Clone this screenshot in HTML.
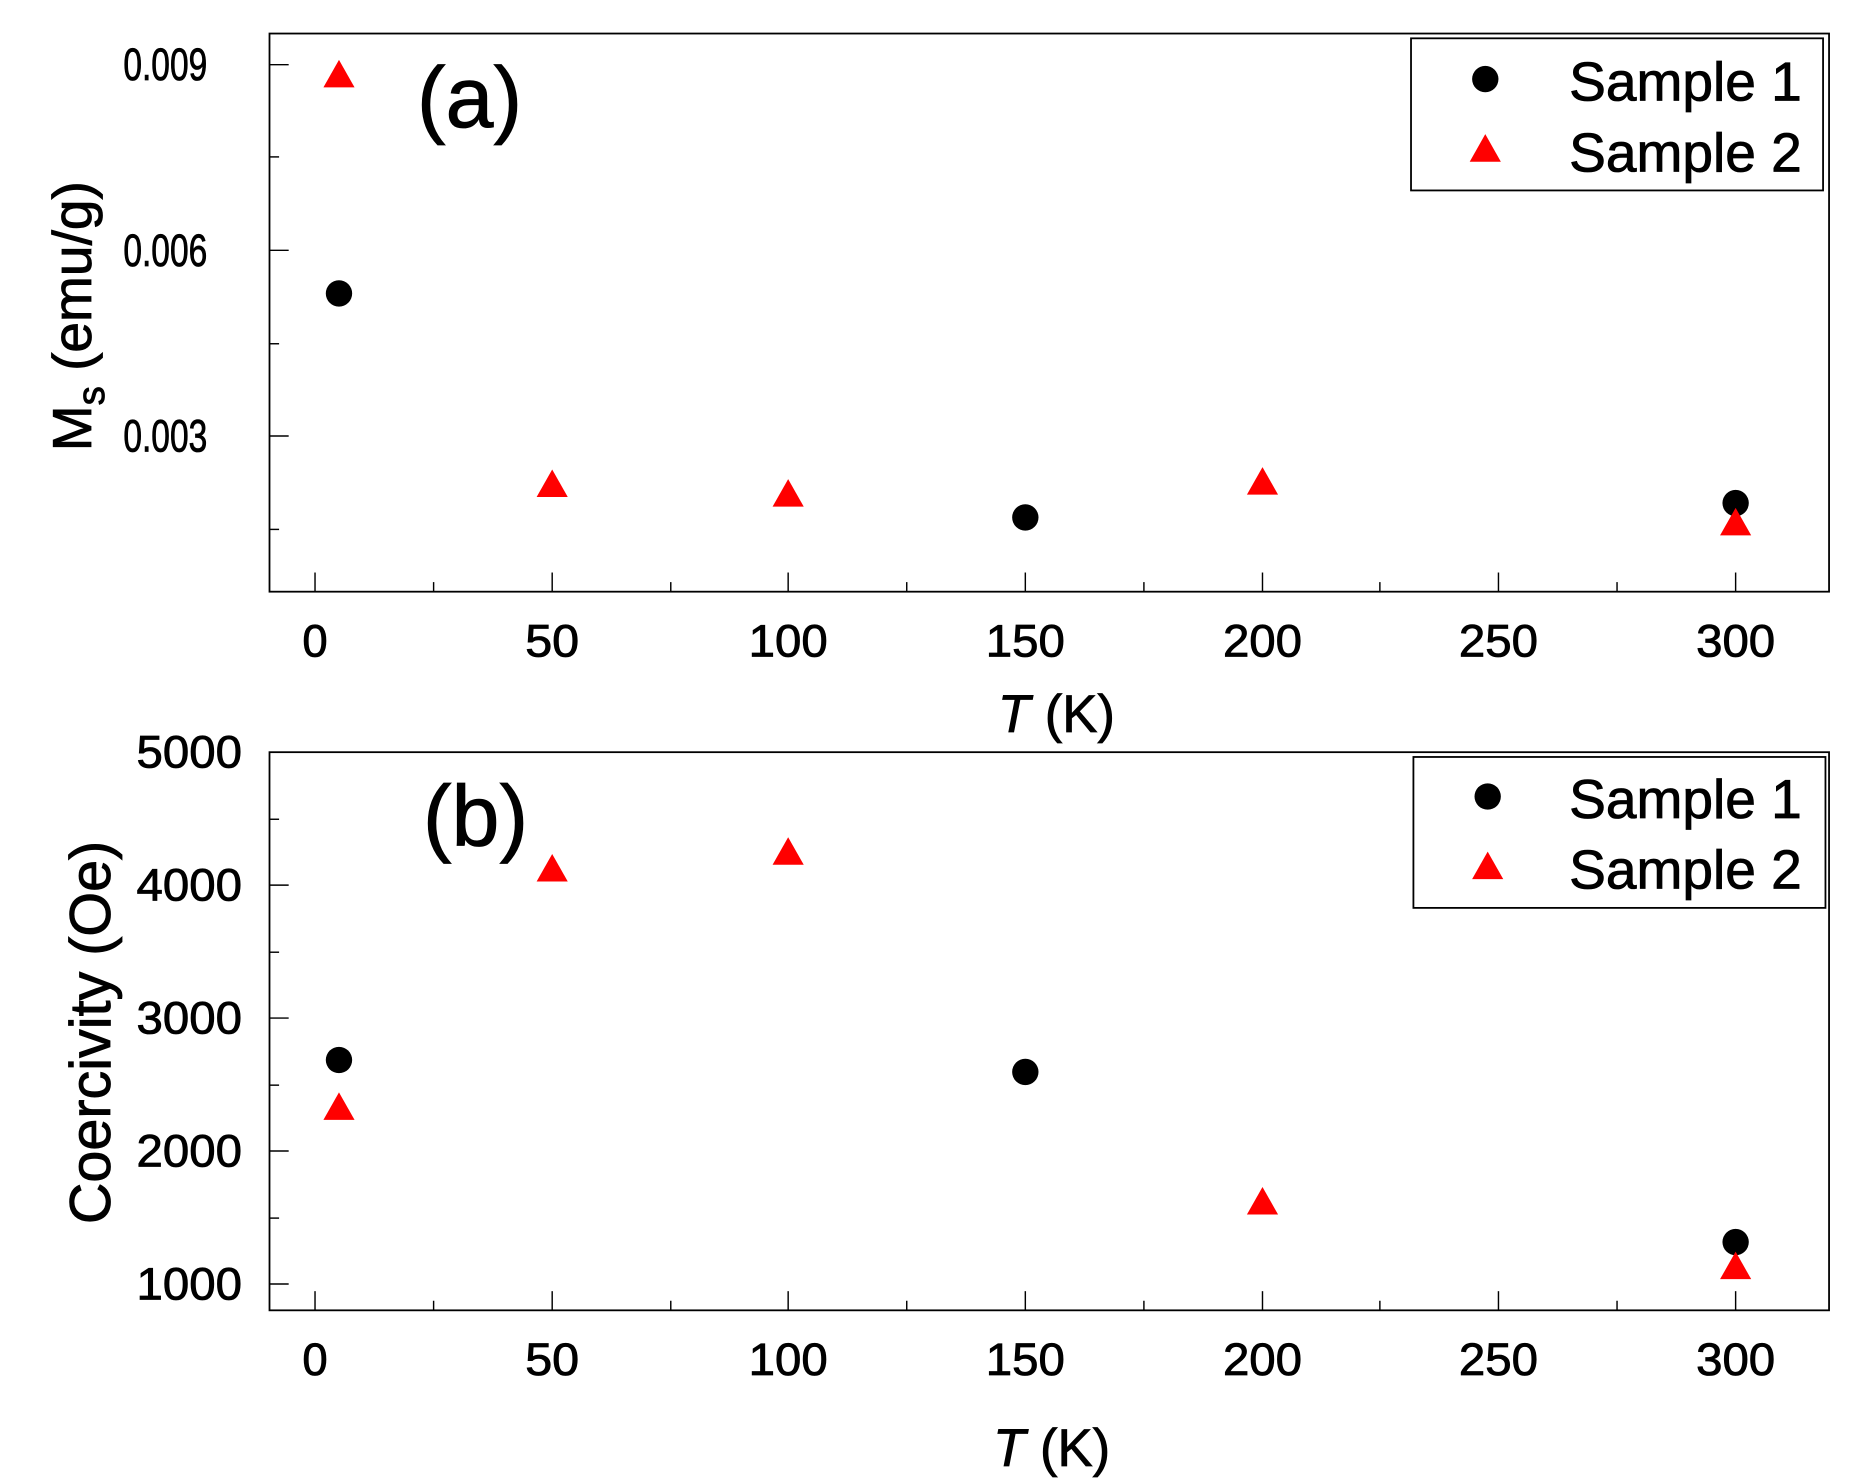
<!DOCTYPE html>
<html><head><style>html,body{margin:0;padding:0;background:#fff}svg{display:block}</style></head><body>
<svg width="1859" height="1484" viewBox="0 0 1552 1239" preserveAspectRatio="none" xmlns="http://www.w3.org/2000/svg" font-family="Liberation Sans, Arial, sans-serif">
<defs>
<g id="c"><circle r="11" fill="#000"/></g>
<g id="t"><polygon points="0,-13 13,10 -13,10" fill="#f00"/></g>
</defs>
<g stroke="#000" stroke-width="0.7">
<!-- Panel a -->
<g font-size="38" text-anchor="end" lengthAdjust="spacingAndGlyphs"><text x="173" y="67" textLength="70" lengthAdjust="spacingAndGlyphs">0.009</text><text x="173" y="222" textLength="70" lengthAdjust="spacingAndGlyphs">0.006</text><text x="173" y="377" textLength="70" lengthAdjust="spacingAndGlyphs">0.003</text></g>
<g font-size="38" text-anchor="middle"><text x="263" y="548">0</text><text x="461" y="548" textLength="45" lengthAdjust="spacingAndGlyphs">50</text><text x="658" y="548" textLength="66" lengthAdjust="spacingAndGlyphs">100</text><text x="856" y="548" textLength="66" lengthAdjust="spacingAndGlyphs">150</text><text x="1054" y="548" textLength="66" lengthAdjust="spacingAndGlyphs">200</text><text x="1251" y="548" textLength="66" lengthAdjust="spacingAndGlyphs">250</text><text x="1449" y="548" textLength="66" lengthAdjust="spacingAndGlyphs">300</text></g>
<text x="882" y="611" font-size="44" text-anchor="middle"><tspan font-style="italic">T</tspan> (K)</text>
<text transform="translate(76,264) rotate(-90)" font-size="46" text-anchor="middle">M<tspan font-size="32" dy="11">s</tspan><tspan dy="-11"> (emu/g)</tspan></text>
<text x="348" y="106" font-size="72">(a)</text>
<text x="1310" y="84" font-size="46">Sample 1</text><text x="1310" y="143" font-size="46">Sample 2</text>
<!-- Panel b text -->
<g font-size="38" text-anchor="end"><text x="202" y="641" textLength="88" lengthAdjust="spacingAndGlyphs">5000</text><text x="202" y="752" textLength="88" lengthAdjust="spacingAndGlyphs">4000</text><text x="202" y="863" textLength="88" lengthAdjust="spacingAndGlyphs">3000</text><text x="202" y="974" textLength="88" lengthAdjust="spacingAndGlyphs">2000</text><text x="202" y="1085" textLength="88" lengthAdjust="spacingAndGlyphs">1000</text></g>
<g font-size="38" text-anchor="middle"><text x="263" y="1148">0</text><text x="461" y="1148" textLength="45" lengthAdjust="spacingAndGlyphs">50</text><text x="658" y="1148" textLength="66" lengthAdjust="spacingAndGlyphs">100</text><text x="856" y="1148" textLength="66" lengthAdjust="spacingAndGlyphs">150</text><text x="1054" y="1148" textLength="66" lengthAdjust="spacingAndGlyphs">200</text><text x="1251" y="1148" textLength="66" lengthAdjust="spacingAndGlyphs">250</text><text x="1449" y="1148" textLength="66" lengthAdjust="spacingAndGlyphs">300</text></g>
<text x="878" y="1224" font-size="44" text-anchor="middle"><tspan font-style="italic">T</tspan> (K)</text>
<text transform="translate(92,862) rotate(-90)" font-size="48" text-anchor="middle">Coercivity (Oe)</text>
<text x="353" y="706" font-size="72">(b)</text>
</g>
<rect x="225" y="28" width="1302" height="466" fill="none" stroke="#000" stroke-width="1.5"/>
<g stroke="#000" stroke-width="1.2">
<line x1="263" y1="494" x2="263" y2="478"/><line x1="362" y1="494" x2="362" y2="486"/>
<line x1="461" y1="494" x2="461" y2="478"/><line x1="560" y1="494" x2="560" y2="486"/>
<line x1="658" y1="494" x2="658" y2="478"/><line x1="757" y1="494" x2="757" y2="486"/>
<line x1="856" y1="494" x2="856" y2="478"/><line x1="955" y1="494" x2="955" y2="486"/>
<line x1="1054" y1="494" x2="1054" y2="478"/><line x1="1152" y1="494" x2="1152" y2="486"/>
<line x1="1251" y1="494" x2="1251" y2="478"/><line x1="1350" y1="494" x2="1350" y2="486"/>
<line x1="1449" y1="494" x2="1449" y2="478"/>
<line x1="225" y1="54" x2="241" y2="54"/><line x1="225" y1="209" x2="241" y2="209"/><line x1="225" y1="364" x2="241" y2="364"/>
<line x1="225" y1="131" x2="233" y2="131"/><line x1="225" y1="287" x2="233" y2="287"/><line x1="225" y1="442" x2="233" y2="442"/>
</g>
<use href="#t" x="283" y="63"/><use href="#c" x="283" y="245"/>
<use href="#t" x="461" y="405"/><use href="#t" x="658" y="413"/><use href="#c" x="856" y="432"/>
<use href="#t" x="1054" y="403"/><use href="#c" x="1449" y="420"/><use href="#t" x="1449" y="437"/>
<rect x="1178" y="32" width="344" height="127" fill="none" stroke="#000" stroke-width="1.5"/>
<use href="#c" x="1240" y="66"/><use href="#t" x="1240" y="125"/>
<!-- Panel b -->
<rect x="225" y="628" width="1302" height="466" fill="none" stroke="#000" stroke-width="1.5"/>
<g stroke="#000" stroke-width="1.2">
<line x1="263" y1="1094" x2="263" y2="1078"/><line x1="362" y1="1094" x2="362" y2="1086"/>
<line x1="461" y1="1094" x2="461" y2="1078"/><line x1="560" y1="1094" x2="560" y2="1086"/>
<line x1="658" y1="1094" x2="658" y2="1078"/><line x1="757" y1="1094" x2="757" y2="1086"/>
<line x1="856" y1="1094" x2="856" y2="1078"/><line x1="955" y1="1094" x2="955" y2="1086"/>
<line x1="1054" y1="1094" x2="1054" y2="1078"/><line x1="1152" y1="1094" x2="1152" y2="1086"/>
<line x1="1251" y1="1094" x2="1251" y2="1078"/><line x1="1350" y1="1094" x2="1350" y2="1086"/>
<line x1="1449" y1="1094" x2="1449" y2="1078"/>
<line x1="225" y1="739" x2="241" y2="739"/><line x1="225" y1="850" x2="241" y2="850"/><line x1="225" y1="961" x2="241" y2="961"/><line x1="225" y1="1072" x2="241" y2="1072"/>
<line x1="225" y1="684" x2="233" y2="684"/><line x1="225" y1="795" x2="233" y2="795"/><line x1="225" y1="906" x2="233" y2="906"/><line x1="225" y1="1017" x2="233" y2="1017"/>
</g>
<use href="#c" x="283" y="885"/><use href="#t" x="283" y="925"/>
<use href="#t" x="461" y="726"/><use href="#t" x="658" y="712"/><use href="#c" x="856" y="895"/>
<use href="#t" x="1054" y="1004"/><use href="#c" x="1449" y="1037"/><use href="#t" x="1449" y="1058"/>
<rect x="1180" y="632" width="344" height="126" fill="none" stroke="#000" stroke-width="1.5"/>
<use href="#c" x="1242" y="665"/><use href="#t" x="1242" y="724"/>
<g stroke="#000" stroke-width="0.7">
<text x="1310" y="683" font-size="46">Sample 1</text><text x="1310" y="742" font-size="46">Sample 2</text>
</g>
</svg>
</body></html>
